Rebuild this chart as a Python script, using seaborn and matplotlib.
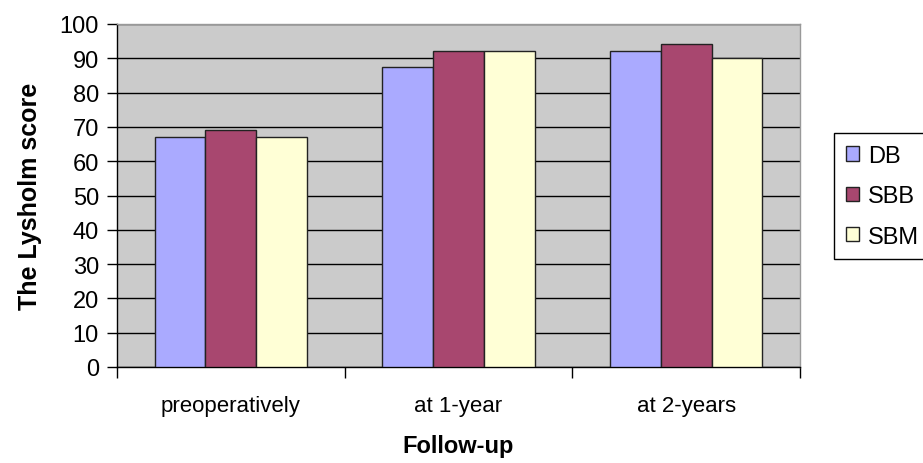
import pandas as pd
import matplotlib.pyplot as plt
import seaborn as sns
from matplotlib.patches import Patch

# Chart data
categories = ['preoperatively', 'at 1-year', 'at 2-years']
groups = ['DB', 'SBB', 'SBM']
db_scores = [67, 87.5, 92]
sbb_scores = [69, 92, 94.2]
sbm_scores = [67, 92, 90]
colors = ['#AAAAFF', '#A8476F', '#FFFFD6']

# Long-form table for seaborn
rows = []
for name, vals in zip(groups, [db_scores, sbb_scores, sbm_scores]):
    for cat, v in zip(categories, vals):
        rows.append({'Follow-up': cat, 'Group': name, 'Score': v})
df = pd.DataFrame(rows)

sns.set_style('white')
plt.rcParams['font.family'] = ['Liberation Sans', 'DejaVu Sans']
plt.rcParams['text.color'] = 'black'
plt.rcParams['axes.labelcolor'] = 'black'
plt.rcParams['xtick.color'] = 'black'
plt.rcParams['ytick.color'] = 'black'

fig = plt.figure(figsize=(9.23, 4.64), dpi=100)
ax = fig.add_axes([117 / 923, 1 - 368 / 464, 683 / 923, 343 / 464])
ax.set_facecolor('#CBCBCB')

sns.barplot(data=df, x='Follow-up', y='Score', hue='Group', palette=colors,
            saturation=1, width=0.67, edgecolor='#222222', linewidth=1, ax=ax,
            legend=False, zorder=3)

ax.set_ylim(0, 100)
ax.set_xlim(-0.5, 2.5)
ax.set_yticks(range(0, 101, 10))
ax.yaxis.grid(True, color='black', linewidth=1)
ax.set_axisbelow(True)

# ticks between categories on x axis
ax.set_xticks([-0.5, 0.5, 1.5, 2.5], minor=True)
ax.tick_params(axis='x', which='major', length=0, pad=20, labelsize=16)
ax.tick_params(axis='x', which='minor', bottom=True, length=8, width=1,
               color='black', direction='out')
ax.tick_params(axis='y', length=7, width=1, color='black', direction='out', left=True,
               labelsize=17, pad=6)

for side in ['left', 'bottom']:
    ax.spines[side].set_color('black')
    ax.spines[side].set_linewidth(1)
for side in ['top', 'right']:
    ax.spines[side].set_color('#999999')
    ax.spines[side].set_linewidth(1)

ax.set_xlabel('Follow-up', fontsize=17, fontweight='bold', labelpad=13)
ax.set_ylabel('The Lysholm score', fontsize=18, fontweight='bold', labelpad=13)

handles = [Patch(facecolor=c, edgecolor='#222222', linewidth=1) for c in colors]
leg = fig.legend(handles, groups, loc='upper left', bbox_to_anchor=(834 / 923, 1 - 134 / 464),
                 borderaxespad=0, fontsize=17, handlelength=0.55, handleheight=0.55,
                 handletextpad=0.4, labelspacing=0.78, fancybox=False, framealpha=1,
                 borderpad=0.5)
leg.get_frame().set_edgecolor('black')
leg.get_frame().set_linewidth(1)

fig.savefig('out.png', dpi=100, facecolor='white')
